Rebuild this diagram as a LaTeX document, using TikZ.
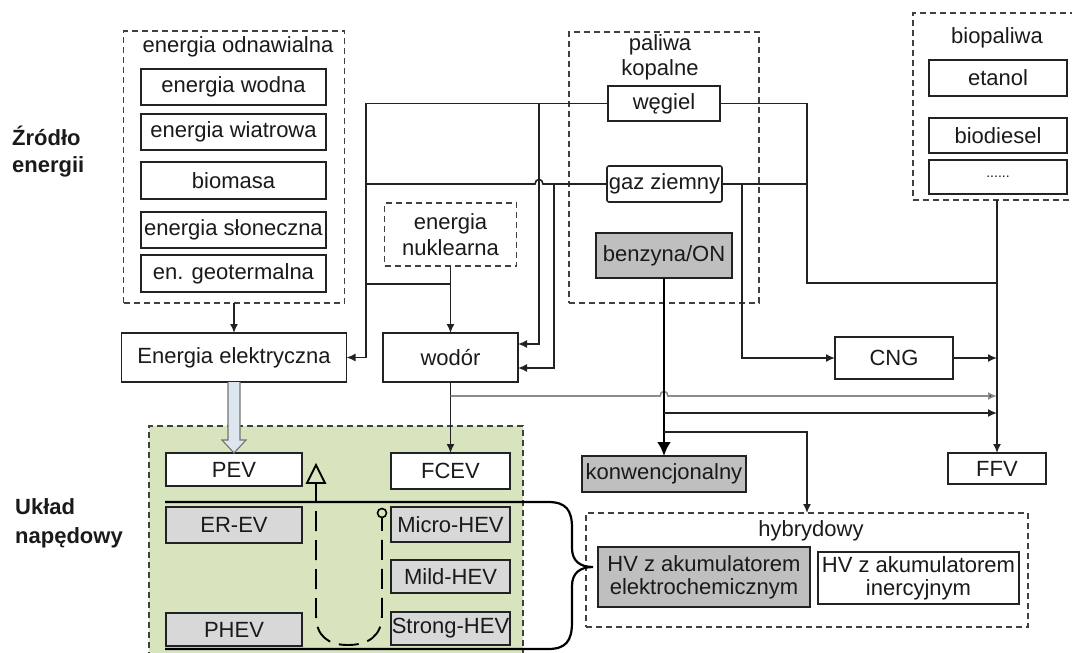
\documentclass[tikz,border=0pt]{standalone}
\usepackage{fontspec}
\setmainfont{Liberation Sans}
\usetikzlibrary{arrows.meta,calc}
\definecolor{txt}{HTML}{1A1A1A}
\definecolor{ln}{HTML}{222222}
\definecolor{dgray}{HTML}{BFBFBF}
\definecolor{lgray}{HTML}{D8D8D8}
\definecolor{panelgreen}{HTML}{D7E4BD}
\definecolor{dashc}{HTML}{404040}
\definecolor{hollow}{HTML}{DDE5EF}
\tikzset{
  box/.style={draw=ln, line width=1.6pt, fill=white, inner sep=0pt, outer sep=0pt, align=center},
  gbox/.style={box, fill=dgray},
  lbox/.style={box, fill=lgray},
  grp/.style={draw=dashc, line width=1.6pt, dash pattern=on 6pt off 4pt, inner sep=0pt, outer sep=0pt},
  ttl/.style={inner sep=0pt, align=center},
  conn/.style={draw=ln, line width=1.6pt},
  arr/.style={conn, -{Latex[length=9pt,width=8pt]}},
  bigarr/.style={draw=black, line width=2.8pt, -{Latex[length=14pt,width=14pt]}},
  grayln/.style={draw=black!45, line width=1.6pt, -{Latex[length=9pt,width=8pt,fill=ln]}},
  udash/.style={draw=black, line width=1.9pt, dash pattern=on 20pt off 9pt},
}
\begin{document}
\begin{tikzpicture}[x=1pt,y=-1pt,font=\fontsize{22}{24}\selectfont,text=txt]
\useasboundingbox (0,0) rectangle (1072,653);

% ---------- side labels ----------
\node[ttl, anchor=west, align=left, font=\fontsize{22}{27}\selectfont\bfseries] (zrodlo) at (12,151.5) {Źródło\\energii};
\node[ttl, anchor=west, align=left, font=\fontsize{22}{29}\selectfont\bfseries] (uklad) at (15,523.5) {Układ\\napędowy};

% ---------- green panel ----------
\node[grp, fill=panelgreen, minimum width=374pt, minimum height=236pt] (panel) at (336,544) {};

% ---------- energia odnawialna ----------
\node[grp, minimum width=221pt, minimum height=272pt] (odn) at (234,167) {};
\node[ttl] (odnt) at (238,47) {energia odnawialna};
\node[box, minimum width=185pt, minimum height=36pt] (wodna) at (233.5,87) {energia wodna};
\node[box, minimum width=185pt, minimum height=36pt] (wiatr) at (233.5,132) {energia wiatrowa};
\node[box, minimum width=185pt, minimum height=37pt] (biom) at (233.5,180.5) {biomasa};
\node[box, minimum width=185pt, minimum height=36pt] (slon) at (233.5,230) {energia słoneczna};
\node[box, minimum width=185pt, minimum height=37pt] (geo) at (233.5,273.5) {en. geotermalna};

% ---------- paliwa kopalne ----------
\node[grp, minimum width=190pt, minimum height=271pt] (pal) at (664,167.5) {};
\node[ttl, font=\fontsize{22}{25}\selectfont] (palt) at (660,57.5) {paliwa\\kopalne};
\node[box, minimum width=112pt, minimum height=35pt] (weg) at (664,103.5) {węgiel};
\node[box, rounded corners=2pt, minimum width=115pt, minimum height=36pt] (gaz) at (664.5,184) {gaz ziemny};
\node[gbox, minimum width=136pt, minimum height=45pt] (benz) at (664,255.5) {benzyna/ON};

% ---------- biopaliwa ----------
\node[grp, minimum width=168pt, minimum height=187pt] (bio) at (997,106.5) {};
\node[ttl] (biot) at (997,38) {biopaliwa};
\node[box, minimum width=138pt, minimum height=36pt] (etan) at (998,78) {etanol};
\node[box, minimum width=138pt, minimum height=35pt] (biod) at (998,135.5) {biodiesel};
\node[box, minimum width=138pt, minimum height=34pt] (dots) at (998,177) {\fontsize{14}{16}\selectfont ......};

% ---------- energia nuklearna ----------
\node[grp, minimum width=132pt, minimum height=63pt] (nuk) at (450.5,234.5) {};
\node[ttl, font=\fontsize{22}{26}\selectfont] (nukt) at (450.5,235) {energia\\nuklearna};

% ---------- middle row ----------
\node[box, minimum width=225pt, minimum height=49pt] (ee) at (234,357.5) {Energia elektryczna};
\node[box, minimum width=135pt, minimum height=49pt] (wod) at (450.5,357.5) {wodór};
\node[box, minimum width=118pt, minimum height=42pt] (cng) at (894,358) {CNG};

% ---------- vehicles ----------
\node[box, line width=2.6pt, minimum width=136pt, minimum height=33pt] (pev) at (234,469.5) {PEV};
\node[box, minimum width=119pt, minimum height=36pt] (fcev) at (450.5,471) {FCEV};
\node[lbox, minimum width=136pt, minimum height=36pt] (erev) at (234,525) {ER-EV};
\node[lbox, minimum width=136pt, minimum height=33pt] (phev) at (234,629.5) {PHEV};
\node[lbox, minimum width=119pt, minimum height=35pt] (micro) at (450.5,524.5) {Micro-HEV};
\node[lbox, minimum width=119pt, minimum height=33pt] (mild) at (450.5,576.5) {Mild-HEV};
\node[lbox, minimum width=119pt, minimum height=33pt] (strong) at (450.5,628.5) {Strong-HEV};
\node[gbox, minimum width=164pt, minimum height=36pt] (konw) at (664,474) {konwencjonalny};
\node[box, minimum width=98pt, minimum height=31pt] (ffv) at (997,468.5) {FFV};

% ---------- hybrydowy ----------
\node[grp, minimum width=442pt, minimum height=114pt] (hyb) at (807,570) {};
\node[ttl] (hybt) at (811,531) {hybrydowy};
\node[gbox, font=\fontsize{22}{23}\selectfont, minimum width=212pt, minimum height=60pt] (hve) at (704,577) {HV z akumulatorem\\elektrochemicznym};
\node[box, font=\fontsize{22}{23}\selectfont, minimum width=201pt, minimum height=52pt] (hvi) at (918.5,578) {HV z akumulatorem\\inercyjnym};

% ---------- connectors: sources ----------
\draw[arr] (odn.south) -- (ee.north);
\draw[arr] (weg.west) -- (366,103.5) -- (366,357.5) -- (ee.east);
\draw[conn] (gaz.west) -- (543,184) .. controls (543,178) and (535,178) .. (535,184) -- (366,184);
\draw[conn] (nuk.south |- 0,284) -- (366,284);
\draw[arr] (nuk.south) -- (wod.north);
\draw[arr] (539,103.5) -- (539,344) -- ($(wod.east)+(0,-13.5)$);
\draw[arr] (554,184) -- (554,368) -- ($(wod.east)+(0,10.5)$);
\draw[conn] (weg.east) -- (807,103.5) -- (807,283) -- (997,283);
\draw[conn] (gaz.east) -- (807,184);
\draw[arr] (742,184) -- (742,358) -- (cng.west);
\draw[arr] (cng.east) -- (997,358);
\draw[arr] (bio.south) -- (ffv.north);

% ---------- connectors: to vehicles ----------
\draw[arr] (wod.south) -- (fcev.north);
\draw[grayln] (wod.south |- 0,396) -- (660,396) .. controls (660,390) and (668,390) .. (668,396) -- (997,396);
\draw[bigarr] (benz.south) -- (konw.north);
\draw[arr] (benz.south |- 0,413) -- (997,413);
\draw[arr] (benz.south |- 0,432) -- (hyb.north |- 0,432) -- (hyb.north);

% hollow arrow Energia elektryczna -> PEV
\draw[draw=black!55, fill=hollow, line width=1.1pt]
  ($(ee.south)+(-6,0)$) -- ($(pev.north)+(-6,-13)$) -- ($(pev.north)+(-12,-13)$) -- (pev.north)
  -- ($(pev.north)+(12,-13)$) -- ($(pev.north)+(6,-13)$) -- ($(ee.south)+(6,0)$);

% ---------- bracket / brace ----------
\draw[draw=black, line width=2.2pt]
  (165,502) -- (548,502) .. controls (566,502) and (572,510) .. (572,528) -- (572,548)
  .. controls (572,561) and (580,567) .. (593,567)
  .. controls (580,567) and (572,573) .. (572,586) -- (572,622)
  .. controls (572,641) and (566,649) .. (548,649) -- (165,649);

% ---------- dashed U loop ----------
\draw[udash] (316,482) -- (316,615) .. controls (316,636) and (328,645) .. (348,645)
  .. controls (368,645) and (382,636) .. (382,615) -- (382,518);
\draw[draw=black, line width=1.9pt, fill=panelgreen] (307,483) -- (316,465) -- (325,483) -- cycle;
\draw[draw=black, line width=1.6pt, fill=panelgreen] (382,513) circle[radius=4.5pt];
\end{tikzpicture}
\end{document}
